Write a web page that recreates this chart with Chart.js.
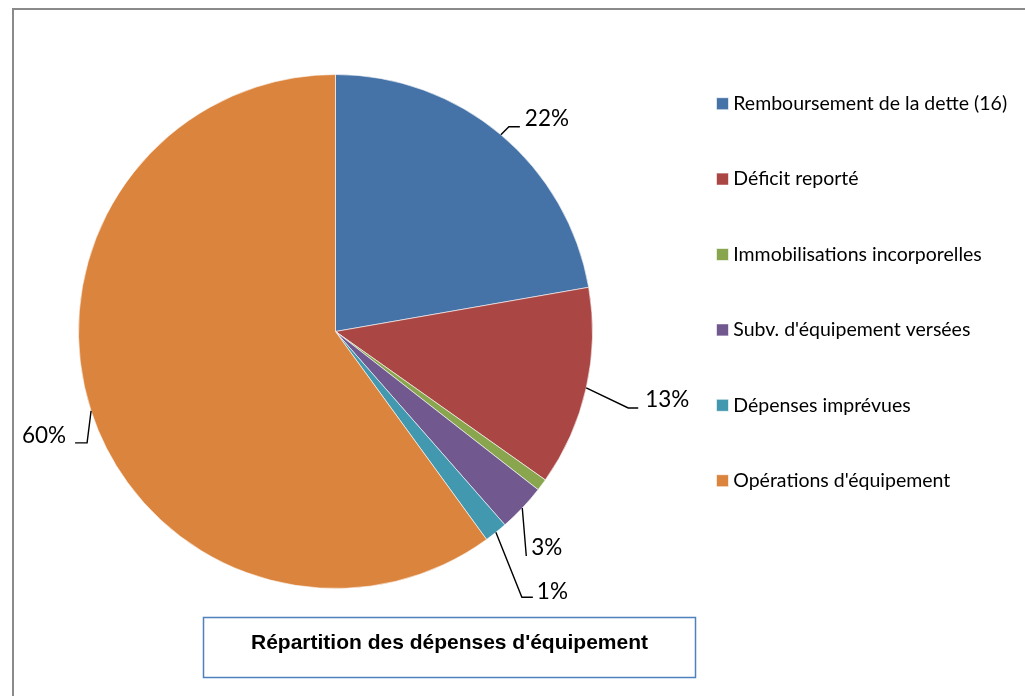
<!DOCTYPE html>
<html>
<head>
<meta charset="utf-8">
<script src="https://cdn.jsdelivr.net/npm/chart.js@4/dist/chart.umd.min.js"></script>
<style>
  html, body { margin: 0; padding: 0; background: #ffffff; }
  #wrap { width: 1025px; height: 696px; position: relative; }
</style>
</head>
<body>
<div id="wrap"><canvas id="c" width="1025" height="696"></canvas></div>
<script>
// ---- data ----
const categories = [
  "Remboursement de la dette (16)",
  "Déficit reporté",
  "Immobilisations incorporelles",
  "Subv. d'équipement versées",
  "Dépenses imprévues",
  "Opérations d'équipement"
];
const shares = [22.25, 12.55, 0.75, 3.0, 1.45, 60.0];
const shareLabels = ["22%", "13%", "", "3%", "1%", "60%"];
const chartTitle = "Répartition des dépenses d'équipement";

// ---- styles ----
const colors = ["#4572A7", "#AA4643", "#89A54E", "#71588F", "#4198AF", "#DB843D"];

// leader-line geometry relative to the arc anchor (mid-angle on the rim)
const leaderCfg = [
  { elbow: [8, -8],  end: [19, -8],  text: [24, -16], align: "left" },
  { elbow: [42, 20], end: [52, 20],  text: [59, 12],  align: "left" },
  null,
  { elbow: [4, 48],  end: [4, 48],   text: [9, 40],   align: "left" },
  { elbow: [26, 65], end: [37, 65],  text: [41, 59],  align: "left" },
  { elbow: [-4, 32], end: [-16, 32], text: [-25, 25], align: "right" }
];

// legend layout
const legendFontSize = 19.5;
const legendPad = 55.9;
const legendBoxW = 2;
const legendLeft = 665.6;
const pieCenterX = 335.5;
const padTop = 38.05;
const padBottom = padTop + 33;

const mctx = document.createElement("canvas").getContext("2d");
mctx.font = legendFontSize + "px Lato";
let maxText = 0;
categories.forEach(t => { maxText = Math.max(maxText, mctx.measureText(t).width); });
const legendW = legendPad + legendBoxW + legendFontSize / 2 + maxText + 10;
const padRight = Math.max(0, 1025 - legendLeft - legendW);
const padLeft = 2 * pieCenterX - legendLeft;

const backgroundPlugin = {
  id: "bgFrame",
  beforeDraw(chart) {
    const ctx = chart.ctx;
    ctx.save();
    ctx.fillStyle = "#ffffff";
    ctx.fillRect(0, 0, chart.width, chart.height);
    ctx.strokeStyle = "#8a8a8a";
    ctx.lineWidth = 2;
    ctx.beginPath();
    ctx.moveTo(13, chart.height);
    ctx.lineTo(13, 9);
    ctx.lineTo(chart.width, 9);
    ctx.stroke();
    ctx.restore();
  }
};

const labelPlugin = {
  id: "leaderLabels",
  afterDatasetsDraw(chart) {
    const ctx = chart.ctx;
    const meta = chart.getDatasetMeta(0);
    ctx.save();
    ctx.strokeStyle = "#000000";
    ctx.lineWidth = 1.4;
    ctx.fillStyle = "#000000";
    ctx.font = "22.5px Lato";
    ctx.textBaseline = "middle";
    meta.data.forEach((arc, i) => {
      const cfg = leaderCfg[i];
      const txt = shareLabels[i];
      if (!cfg || !txt) return;
      const p = arc.getProps(["x", "y", "startAngle", "endAngle", "outerRadius"], true);
      const mid = (p.startAngle + p.endAngle) / 2;
      const ax = p.x + Math.cos(mid) * p.outerRadius;
      const ay = p.y + Math.sin(mid) * p.outerRadius;
      ctx.beginPath();
      ctx.moveTo(ax, ay);
      ctx.lineTo(ax + cfg.elbow[0], ay + cfg.elbow[1]);
      ctx.lineTo(ax + cfg.end[0], ay + cfg.end[1]);
      ctx.stroke();
      ctx.textAlign = cfg.align;
      ctx.fillText(txt, ax + cfg.text[0], ay + cfg.text[1]);
    });
    ctx.restore();
  }
};

const titleBoxPlugin = {
  id: "titleBox",
  afterDraw(chart) {
    const ctx = chart.ctx;
    ctx.save();
    ctx.strokeStyle = "#4F81BD";
    ctx.lineWidth = 1.5;
    ctx.strokeRect(203.5, 617.5, 492, 60);
    ctx.fillStyle = "#000000";
    ctx.font = "bold 21px 'Liberation Sans', Arial, sans-serif";
    ctx.textAlign = "center";
    ctx.textBaseline = "middle";
    ctx.fillText(chartTitle, 449.5, 643);
    ctx.restore();
  }
};

new Chart(document.getElementById("c"), {
  type: "pie",
  data: {
    labels: categories,
    datasets: [{
      data: shares,
      backgroundColor: colors,
      borderColor: "#ffffff",
      borderWidth: 0.6,
      radius: 257
    }]
  },
  options: {
    responsive: false,
    devicePixelRatio: 1,
    animation: false,
    layout: { padding: { left: padLeft, right: padRight, top: padTop, bottom: padBottom } },
    plugins: {
      title: { display: false },
      tooltip: { enabled: false },
      legend: {
        display: true,
        position: "right",
        align: "start",
        labels: {
          usePointStyle: true,
          pointStyle: "rect",
          boxWidth: legendBoxW,
          boxHeight: 12,
          padding: legendPad,
          color: "#000000",
          font: { family: "Lato", size: legendFontSize }
        }
      }
    }
  },
  plugins: [backgroundPlugin, labelPlugin, titleBoxPlugin]
});
</script>
</body>
</html>
